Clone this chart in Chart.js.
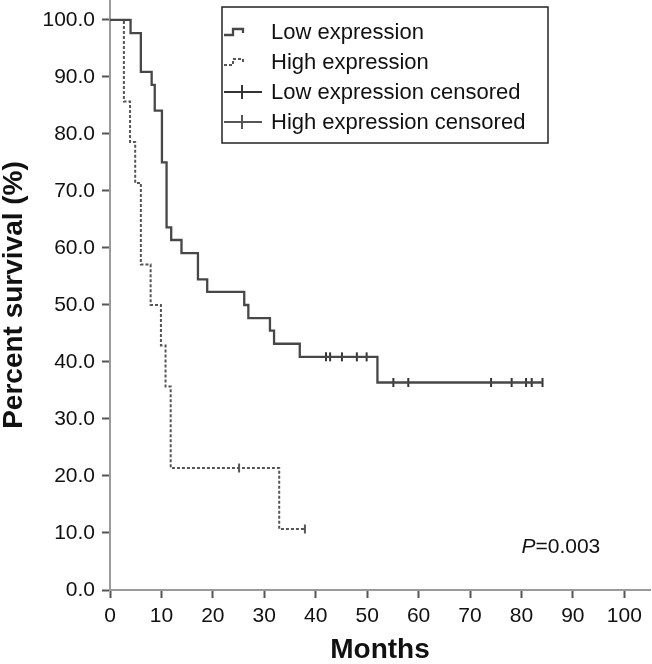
<!DOCTYPE html>
<html>
<head>
<meta charset="utf-8">
<script src="https://cdn.jsdelivr.net/npm/chart.js@4/dist/chart.umd.min.js"></script>
<style>
    body { margin: 0; background: #fff; }
    #wrap { width: 652px; height: 664px; }
</style>
</head>
<body>
<div id="wrap"><canvas id="km" width="652" height="664"></canvas></div>
<script>
// Kaplan-Meier curves, values
const lowTimes = [0, 4, 6, 8.1, 8.7, 10.1, 11, 11.9, 13.9, 17.1, 18.9, 26.1, 26.9, 31.1, 31.9, 36.9, 52, 84.1];
const lowSurvival = [100, 97.7, 90.9, 88.6, 84.1, 75.0, 63.6, 61.4, 59.1, 54.5, 52.3, 50.0, 47.7, 45.5, 43.2, 40.9, 36.4, 36.4];
const highTimes = [0, 2.7, 3.9, 4.9, 6.0, 7.9, 9.9, 10.8, 11.8, 32.9, 38];
const highSurvival = [100, 85.7, 78.6, 71.4, 57.1, 50.0, 42.9, 35.7, 21.4, 10.7, 10.7];

const lowCensorTimes = [42, 42.8, 45.1, 48, 49.9, 55.1, 58, 74.1, 78.1, 80.9, 82, 84.1];
const lowCensorSurvival = [40.9, 40.9, 40.9, 40.9, 40.9, 36.4, 36.4, 36.4, 36.4, 36.4, 36.4, 36.4];
const highCensorTimes = [25.1, 37.9];
const highCensorSurvival = [21.4, 10.7];

const xTicks = [0, 10, 20, 30, 40, 50, 60, 70, 80, 90, 100];
const yTicks = [0, 10, 20, 30, 40, 50, 60, 70, 80, 90, 100];
const seriesLabels = ["Low expression", "High expression", "Low expression censored", "High expression censored"];
const pValueText = ["P", "=0.003"];

const FONT = "'Liberation Sans', Arial, sans-serif";

const toPoints = (xs, ys) => xs.map((x, i) => ({x: x, y: ys[i]}));

// legend drawn inside the plot, in a box, like the original
const boxLegend = {
    id: "boxLegend",
    afterDraw(chart) {
        const ctx = chart.ctx;
        const left = 222, top = 7, right = 548, bottom = 143;
        ctx.save();
        ctx.fillStyle = "#fff";
        ctx.fillRect(left, top, right - left, bottom - top);
        ctx.strokeStyle = "#222";
        ctx.lineWidth = 1.5;
        ctx.strokeRect(left, top, right - left, bottom - top);

        chart.data.datasets.forEach((ds, i) => {
            const cy = 32 + i * 30;
            ctx.strokeStyle = ds.borderColor;
            ctx.lineWidth = ds.borderWidth;
            ctx.setLineDash(ds.borderDash || []);
            ctx.beginPath();
            if (ds.stepped) {       //little step icon
                ctx.moveTo(224, cy + 3);
                ctx.lineTo(233, cy + 3);
                ctx.lineTo(233, cy - 3);
                ctx.lineTo(243, cy - 3);
                ctx.lineTo(243, cy + 1);
            } else {                //censor cross
                ctx.moveTo(224, cy);
                ctx.lineTo(262, cy);
                ctx.moveTo(242, cy - 7);
                ctx.lineTo(242, cy + 7);
            }
            ctx.stroke();
            ctx.setLineDash([]);
            ctx.fillStyle = "#111";
            ctx.font = "22px " + FONT;
            ctx.textBaseline = "middle";
            ctx.textAlign = "left";
            ctx.fillText(ds.label, 271, cy + 1);
        });

        // P value
        const xs = chart.scales.x, ys = chart.scales.y;
        let px = xs.getPixelForValue(80);
        const py = ys.getPixelForValue(7.5);
        ctx.fillStyle = "#111";
        ctx.font = "italic 21px " + FONT;
        ctx.fillText(pValueText[0], px, py);
        px += ctx.measureText(pValueText[0]).width;
        ctx.font = "21px " + FONT;
        ctx.fillText(pValueText[1], px, py);
        ctx.restore();
    }
};

const noPad = (scale) => {
    scale.paddingTop = 0;
    scale.paddingBottom = 0;
    scale.paddingLeft = 0;
    scale.paddingRight = 0;
};

const ctx = document.getElementById("km").getContext("2d");
const kmChart = new Chart(ctx, {
    type: "line",
    data: {
        datasets: [{
            label: seriesLabels[0],
            data: toPoints(lowTimes, lowSurvival),
            stepped: "before",
            borderColor: "#474747",
            borderWidth: 2.3,
            pointRadius: 0,
            fill: false
        }, {
            label: seriesLabels[1],
            data: toPoints(highTimes, highSurvival),
            stepped: "before",
            borderColor: "#555",
            borderWidth: 2,
            borderDash: [3, 2],
            pointRadius: 0,
            fill: false
        }, {
            label: seriesLabels[2],
            data: toPoints(lowCensorTimes, lowCensorSurvival),
            showLine: false,
            borderColor: "#333",
            borderWidth: 2,
            pointStyle: "line",
            rotation: 90,
            pointRadius: 4.5,
            pointBorderWidth: 2
        }, {
            label: seriesLabels[3],
            data: toPoints(highCensorTimes, highCensorSurvival),
            showLine: false,
            borderColor: "#555",
            borderWidth: 2,
            pointStyle: "line",
            rotation: 90,
            pointRadius: 4.5,
            pointBorderWidth: 2
        }]
    },
    options: {
        responsive: false,
        animation: false,
        devicePixelRatio: 1,
        layout: {autoPadding: false, padding: {top: 0, right: 2, bottom: 0, left: 0}},
        scales: {
            x: {
                type: "linear",
                min: 0,
                max: 105,
                afterBuildTicks: (scale) => { scale.ticks = xTicks.map(v => ({value: v})); },
                afterFit: (scale) => { scale.height = 74; noPad(scale); },
                ticks: {
                    padding: 6,
                    maxRotation: 0,
                    autoSkip: false,
                    color: "#111",
                    font: {family: FONT, size: 21},
                    callback: (v) => String(v)
                },
                grid: {drawOnChartArea: false, drawTicks: true, tickLength: 8, tickColor: "#555", tickWidth: 2},
                border: {display: true, color: "#9a9a9a", width: 2},
                title: {
                    display: true,
                    text: "Months",
                    color: "#111",
                    padding: 0,
                    font: {family: FONT, size: 28, weight: "bold", lineHeight: 1}
                }
            },
            y: {
                min: 0,
                max: 103.5,
                afterBuildTicks: (scale) => { scale.ticks = yTicks.map(v => ({value: v})); },
                afterFit: (scale) => { scale.width = 110; noPad(scale); },
                ticks: {
                    padding: 7,
                    autoSkip: false,
                    color: "#111",
                    font: {family: FONT, size: 21},
                    callback: (v) => v.toFixed(1)
                },
                grid: {drawOnChartArea: false, drawTicks: true, tickLength: 8, tickColor: "#555", tickWidth: 2},
                border: {display: true, color: "#9a9a9a", width: 2},
                title: {
                    display: true,
                    text: "Percent survival (%)",
                    color: "#111",
                    padding: 0,
                    font: {family: FONT, size: 28, weight: "bold", lineHeight: 1}
                }
            }
        },
        plugins: {
            legend: {display: false},
            tooltip: {enabled: false}
        }
    },
    plugins: [boxLegend]
});
</script>
</body>
</html>
